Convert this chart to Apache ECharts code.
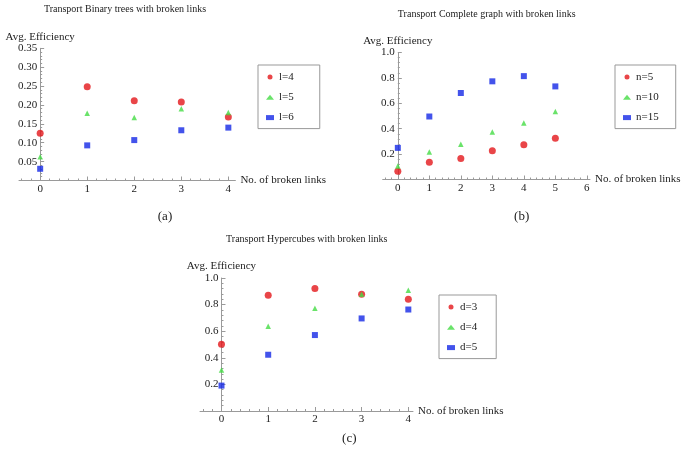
<!DOCTYPE html>
<html><head><meta charset="utf-8">
<script src="https://cdn.jsdelivr.net/npm/echarts@6/dist/echarts.min.js"></script>
<style>html,body{margin:0;padding:0;background:#fff}#c{width:685px;height:453px}</style>
</head><body><div id="c"></div>
<script>
// ---- data ----
const xA = [0, 1, 2, 3, 4];
const l4 = [0.125, 0.248, 0.211, 0.208, 0.168];
const l5 = [0.063, 0.178, 0.167, 0.190, 0.180];
const l6 = [0.031, 0.093, 0.107, 0.133, 0.140];

const xB = [0, 1, 2, 3, 4, 5];
const n5 = [0.064, 0.135, 0.166, 0.226, 0.273, 0.325];
const n10 = [0.106, 0.216, 0.278, 0.375, 0.445, 0.535];
const n15 = [0.249, 0.496, 0.681, 0.773, 0.814, 0.733];

const xC = [0, 1, 2, 3, 4];
const d3 = [0.501, 0.870, 0.921, 0.878, 0.840];
const d4 = [0.309, 0.638, 0.773, 0.878, 0.908];
const d5 = [0.191, 0.423, 0.571, 0.696, 0.763];

const xTicksA = [0, 1, 2, 3, 4];
const xTicksB = [0, 1, 2, 3, 4, 5, 6];
const xTicksC = [0, 1, 2, 3, 4];

const titles = ['Transport Binary trees with broken links', 'Transport Complete graph with broken links', 'Transport Hypercubes with broken links'];
const panelLabels = ['(a)', '(b)', '(c)'];
const yName = 'Avg. Efficiency';
const xName = 'No. of broken links';

// ---- styling helpers ----
const FONT = '"Liberation Serif", "DejaVu Serif", serif';
const AX = '#9a9a9a';
const TXT = '#222';
const RED = '#e3161a', GREEN = '#45dc45', BLUE = '#1428e6';

function minorVals(min, max) {
  const out = [];
  for (let k = Math.ceil(min / 0.2 - 1e-9); k <= Math.floor(max / 0.2 + 1e-9); k++) {
    if (k % 5 !== 0) out.push(+(k * 0.2).toFixed(2));
  }
  return out;
}

const ranges = [[-0.45, 4.15], [-0.48, 6.1], [-0.46, 4.1]];
const majors = [xTicksA, xTicksB, xTicksC];
const grids = [
  {left: 19, top: 48.3, width: 216.4, height: 132.2, outerBoundsMode: 'none', containLabel: false},
  {left: 382.7, top: 52.5, width: 207.3, height: 127, outerBoundsMode: 'none', containLabel: false},
  {left: 200, top: 278, width: 213, height: 133, outerBoundsMode: 'none', containLabel: false}
];

const xAxes = [], yAxes = [];
const yConf = [{max: 0.35, interval: 0.05, dec: 2}, {max: 1, interval: 0.2, dec: 1}, {max: 1, interval: 0.2, dec: 1}];
for (let i = 0; i < 3; i++) {
  const [mn, mx] = ranges[i];
  // shift the y axis inward so that it sits at x = 0
  const shift = (0 - mn) / (mx - mn) * grids[i].width;
  xAxes.push({
    type: 'value', gridIndex: i, position: 'bottom', min: mn, max: mx,
    name: xName, nameLocation: 'end', nameGap: 5,
    nameTextStyle: {fontFamily: FONT, fontSize: 11, color: TXT},
    axisLine: {show: true, onZero: false, lineStyle: {color: AX, width: 1}},
    axisTick: {show: true, inside: true, length: 4, customValues: majors[i], lineStyle: {color: AX}},
    axisLabel: {show: true, customValues: majors[i], margin: 3, fontFamily: FONT, fontSize: 11, color: TXT},
    splitLine: {show: false}
  });
  yAxes.push({
    type: 'value', gridIndex: i, position: 'left', offset: -shift,
    min: 0, max: yConf[i].max, interval: yConf[i].interval,
    name: yName, nameLocation: 'end', nameGap: 6,
    nameTextStyle: {fontFamily: FONT, fontSize: 11, color: TXT},
    axisLine: {show: true, onZero: false, lineStyle: {color: AX, width: 1}},
    axisTick: {show: true, inside: true, length: 4, lineStyle: {color: AX}},
    minorTick: {show: true, splitNumber: 5, length: 2, lineStyle: {color: AX}},
    axisLabel: {margin: 3, fontFamily: FONT, fontSize: 11, color: TXT,
      formatter: (function (d) { return function (v) { return v === 0 ? '' : v.toFixed(d); }; })(yConf[i].dec)},
    splitLine: {show: false}
  });
}
// minor x ticks
for (let i = 0; i < 3; i++) {
  const [mn, mx] = ranges[i];
  const mv = minorVals(mn, mx);
  xAxes.push({
    type: 'value', gridIndex: i, position: 'bottom', min: mn, max: mx,
    axisLine: {show: false},
    axisTick: {show: true, inside: true, length: 2, customValues: mv, lineStyle: {color: AX}},
    axisLabel: {show: false, customValues: mv},
    splitLine: {show: false}
  });
}

function pts(xs, ys) { return xs.map((x, k) => [x, ys[k]]); }
function ser(name, xs, ys, gi, sym, size, color) {
  return {type: 'scatter', name, xAxisIndex: gi, yAxisIndex: gi, data: pts(xs, ys),
    symbol: sym, symbolSize: size, itemStyle: {color}, z: 5};
}

const series = [
  ser('l=4', xA, l4, 0, 'circle', 7, RED),
  ser('l=5', xA, l5, 0, 'triangle', 5.5, GREEN),
  ser('l=6', xA, l6, 0, 'rect', 6, BLUE),
  ser('n=5', xB, n5, 1, 'circle', 7, RED),
  ser('n=10', xB, n10, 1, 'triangle', 5.5, GREEN),
  ser('n=15', xB, n15, 1, 'rect', 6, BLUE),
  ser('d=3', xC, d3, 2, 'circle', 7, RED),
  ser('d=4', xC, d4, 2, 'triangle', 5.5, GREEN),
  ser('d=5', xC, d5, 2, 'rect', 6, BLUE)
];

function leg(names, left, top, padR) {
  return {
    data: names, orient: 'vertical', left, top, selectedMode: false,
    itemWidth: 8, itemHeight: 5, itemGap: 8.3,
    padding: [6, padR, 5, 8],
    borderColor: '#999', borderWidth: 1,
    textStyle: {fontFamily: FONT, fontSize: 11, color: TXT, lineHeight: 12}
  };
}

const graphic = [
  {type: 'text', x: 125, y: 9.5, style: {text: titles[0], font: '10px ' + FONT, fill: TXT, textAlign: 'center', textVerticalAlign: 'middle'}},
  {type: 'text', x: 486.7, y: 14, style: {text: titles[1], font: '10px ' + FONT, fill: TXT, textAlign: 'center', textVerticalAlign: 'middle'}},
  {type: 'text', x: 306.7, y: 239.3, style: {text: titles[2], font: '10px ' + FONT, fill: TXT, textAlign: 'center', textVerticalAlign: 'middle'}},
  {type: 'text', x: 165, y: 216.7, style: {text: panelLabels[0], font: '13px ' + FONT, fill: TXT, textAlign: 'center', textVerticalAlign: 'middle'}},
  {type: 'text', x: 521.7, y: 216.7, style: {text: panelLabels[1], font: '13px ' + FONT, fill: TXT, textAlign: 'center', textVerticalAlign: 'middle'}},
  {type: 'text', x: 349.3, y: 438.3, style: {text: panelLabels[2], font: '13px ' + FONT, fill: TXT, textAlign: 'center', textVerticalAlign: 'middle'}}
];

const chart = echarts.init(document.getElementById('c'), null, {renderer: 'canvas'});
chart.setOption({
  animation: false,
  backgroundColor: '#fff',
  grid: grids,
  xAxis: xAxes,
  yAxis: yAxes,
  legend: [
    leg(['l=4', 'l=5', 'l=6'], 258, 65, 26),
    leg(['n=5', 'n=10', 'n=15'], 615, 65, 17),
    leg(['d=3', 'd=4', 'd=5'], 439, 295, 19)
  ],
  graphic,
  series
});
</script>
</body></html>
